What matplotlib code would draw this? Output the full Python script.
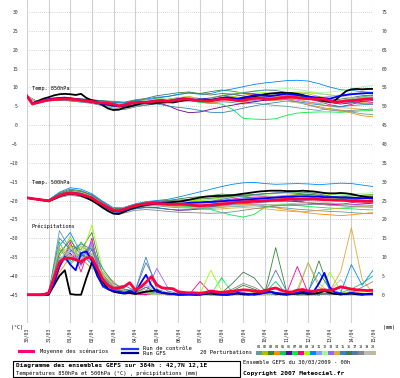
import matplotlib
matplotlib.use("Agg")
import matplotlib.pyplot as plt
from matplotlib.lines import Line2D
from matplotlib.patches import Rectangle

# time steps (hours since 30/03 00h)
hours6 = list(range(0, 385, 6))
hours12 = list(range(0, 385, 12))
day_labels = ['30/03', '31/03', '01/04', '02/04', '03/04', '04/04', '05/04', '06/04', '07/04',
              '08/04', '09/04', '10/04', '11/04', '12/04', '13/04', '14/04', '15/04']

pert_colors = ['#5F9EA0', '#B8B800', '#338833', '#FF8C00', '#00CC66', '#660099', '#00EE44',
               '#FF0088', '#99FF00', '#0088FF', '#9999FF', '#99FF99', '#9966FF', '#DDAA33',
               '#3388BB', '#447755', '#5577AA', '#888888', '#BBBBBB', '#BBBB99']

# Temperature 850hPa (degC)
t850_mean = [7.7, 5.6, 6.0, 6.4, 6.7, 6.8, 6.9, 7.0, 6.9, 6.8, 6.6, 6.4, 6.3, 6.0, 5.9,
             5.8, 5.6, 5.1, 5.4, 5.8, 6.0, 6.1, 6.0, 6.2, 6.4, 6.4, 6.3, 6.5, 6.7, 6.9,
             6.9, 6.6, 6.5, 6.4, 6.4, 6.7, 6.9, 6.9, 6.7, 6.5, 6.6, 6.9, 7.1, 7.2, 7.0,
             6.9, 7.0, 7.2, 7.4, 7.4, 7.3, 7.1, 7.0, 7.0, 6.9, 6.9, 6.5, 6.1, 6.2, 6.4,
             6.5, 6.6, 6.8, 6.9, 7.0]
t850_ctrl = [7.7, 5.7, 6.2, 6.6, 6.9, 7.1, 7.2, 7.3, 7.1, 6.9, 6.7, 6.5, 6.2, 5.9, 5.7,
             5.5, 5.2, 5.0, 5.3, 5.7, 6.0, 6.2, 6.1, 6.3, 6.5, 6.6, 6.4, 6.6, 6.9, 7.1,
             6.9, 6.7, 6.8, 6.9, 6.7, 6.9, 7.2, 7.4, 7.2, 7.0, 7.3, 7.6, 7.9, 8.0, 7.8,
             7.7, 7.9, 8.1, 8.3, 8.2, 8.0, 7.8, 7.6, 7.4, 7.3, 7.1, 7.0, 7.4, 7.8, 8.0,
             8.2, 8.3, 8.4, 8.5, 8.5]
t850_gfs = [7.7, 5.8, 6.4, 7.0, 7.4, 7.9, 8.2, 8.3, 8.2, 8.0, 8.3, 7.2, 6.6, 6.2, 5.3,
            4.4, 4.0, 4.1, 4.6, 4.9, 5.3, 5.7, 5.8, 5.7, 5.9, 6.0, 6.1, 6.0, 6.3, 6.6,
            6.7, 6.6, 6.8, 6.5, 6.6, 6.9, 7.1, 7.0, 6.9, 6.8, 7.1, 7.4, 7.6, 7.9, 8.2,
            8.4, 8.5, 8.6, 8.5, 8.5, 8.3, 8.0, 7.6, 7.2, 6.8, 6.4, 6.2, 6.6, 7.8, 9.0,
            9.5, 9.6, 9.5, 9.6, 9.6]
t850_pert = [
    [7.7, 6.0, 6.5, 6.7, 6.6, 6.4, 6.0, 5.5, 5.0, 4.8, 5.4, 5.8, 6.2, 6.0, 6.4, 6.6, 6.1, 5.8, 6.2, 6.0, 5.6, 5.9, 5.5, 5.2, 5.0, 4.6, 4.2, 3.9, 4.4, 4.0, 3.5, 3.0, 2.8],
    [7.7, 6.1, 6.9, 7.2, 7.2, 6.9, 6.6, 6.1, 5.9, 5.6, 6.1, 6.3, 6.8, 6.9, 7.3, 7.6, 7.0, 6.9, 7.4, 7.6, 7.9, 8.4, 8.2, 7.9, 8.1, 8.6, 8.3, 7.6, 7.1, 6.5, 6.3, 6.0, 5.6],
    [7.7, 5.9, 6.6, 6.9, 6.8, 6.5, 6.5, 6.2, 5.9, 5.7, 6.3, 6.6, 7.2, 7.6, 8.1, 8.6, 8.4, 8.9, 9.3, 9.0, 8.5, 8.3, 7.7, 7.4, 7.8, 7.9, 7.2, 6.4, 5.9, 6.3, 6.9, 7.4, 7.1],
    [7.7, 6.2, 6.9, 7.0, 6.8, 6.4, 6.0, 5.6, 5.8, 5.6, 6.2, 6.1, 6.3, 6.0, 6.2, 6.4, 6.2, 5.9, 6.3, 6.5, 6.0, 6.3, 6.6, 6.5, 6.9, 6.2, 5.4, 4.9, 4.3, 3.9, 3.2, 2.5, 2.2],
    [7.7, 6.0, 6.6, 6.8, 7.0, 6.8, 6.6, 6.3, 6.0, 5.8, 6.5, 6.6, 7.0, 6.8, 7.2, 7.1, 6.6, 6.8, 7.3, 6.9, 6.4, 6.9, 6.8, 7.2, 7.8, 7.5, 7.3, 7.1, 6.8, 6.4, 6.9, 7.5, 7.9],
    [7.7, 6.1, 6.8, 7.1, 7.0, 6.5, 5.9, 5.4, 5.1, 5.0, 5.5, 5.8, 6.0, 5.2, 4.0, 3.3, 3.5, 4.2, 4.8, 5.3, 5.8, 6.2, 6.6, 6.9, 7.2, 7.4, 7.0, 6.5, 6.0, 5.6, 5.9, 6.3, 6.5],
    [7.7, 6.0, 6.6, 6.8, 6.7, 6.4, 6.1, 5.7, 5.4, 5.3, 5.9, 6.2, 6.6, 6.3, 6.5, 6.6, 6.0, 5.8, 5.6, 4.2, 1.8, 1.6, 1.5, 1.7, 2.6, 3.2, 3.4, 3.5, 3.5, 3.4, 3.6, 3.8, 3.9],
    [7.7, 5.8, 6.4, 6.7, 6.6, 6.3, 6.0, 5.5, 5.3, 5.2, 5.9, 6.1, 6.5, 6.4, 6.9, 7.1, 6.8, 7.0, 7.7, 8.1, 8.4, 8.2, 7.8, 7.5, 7.7, 7.4, 6.9, 6.3, 5.4, 4.9, 5.5, 6.3, 6.0],
    [7.7, 6.0, 6.7, 6.8, 6.8, 6.6, 6.4, 6.1, 5.8, 5.6, 6.1, 6.4, 6.6, 6.5, 6.9, 7.2, 7.0, 7.3, 7.9, 8.4, 8.7, 8.9, 8.6, 8.3, 8.5, 8.8, 8.7, 8.4, 8.0, 7.8, 8.1, 8.5, 8.9],
    [7.7, 6.1, 6.9, 7.1, 7.2, 6.9, 6.7, 6.4, 6.1, 5.9, 6.5, 6.9, 7.4, 7.6, 8.2, 8.5, 8.2, 8.4, 9.1, 9.6, 10.2, 10.8, 11.2, 11.5, 11.8, 11.9, 11.7, 11.0, 10.1, 9.4, 9.2, 8.9, 8.6],
    [7.7, 6.0, 6.8, 7.0, 7.1, 6.8, 6.4, 6.0, 5.6, 5.4, 5.9, 6.1, 6.5, 6.3, 6.6, 6.8, 6.5, 6.4, 6.9, 7.1, 7.4, 7.8, 8.1, 8.3, 8.2, 8.0, 7.6, 7.3, 7.6, 8.0, 8.4, 8.6, 8.3],
    [7.7, 6.0, 6.7, 6.9, 6.9, 6.7, 6.3, 6.0, 5.7, 5.5, 6.2, 6.5, 6.9, 6.6, 7.0, 7.2, 6.8, 6.9, 7.5, 8.0, 8.6, 9.1, 9.4, 9.5, 9.7, 9.5, 9.0, 8.6, 8.8, 9.1, 9.6, 10.2, 10.5],
    [7.7, 6.1, 6.7, 6.9, 6.8, 6.5, 6.2, 5.9, 5.7, 5.5, 6.0, 5.9, 6.2, 6.1, 6.6, 6.9, 6.6, 6.6, 7.0, 6.8, 6.3, 6.5, 6.9, 7.4, 7.0, 6.6, 6.1, 5.8, 6.1, 6.4, 6.8, 7.2, 7.5],
    [7.7, 6.2, 6.9, 7.1, 7.0, 6.6, 6.3, 5.9, 5.6, 5.3, 5.8, 6.0, 6.3, 6.2, 6.7, 6.9, 6.7, 6.4, 6.8, 6.6, 6.4, 6.8, 7.3, 7.6, 7.3, 6.9, 6.2, 5.6, 5.0, 4.6, 4.5, 4.2, 4.0],
    [7.7, 5.9, 6.5, 6.6, 6.4, 6.1, 5.8, 5.3, 4.9, 4.6, 5.1, 5.3, 5.6, 5.1, 4.7, 4.4, 3.9, 3.4, 3.3, 3.8, 4.5, 5.1, 5.6, 6.0, 6.4, 6.2, 5.8, 5.4, 5.1, 4.9, 5.2, 5.4, 5.6],
    [7.7, 6.0, 6.7, 7.0, 7.2, 7.0, 6.7, 6.5, 6.3, 6.1, 6.7, 7.1, 7.8, 8.2, 8.6, 8.8, 8.3, 8.0, 8.4, 8.2, 7.7, 7.5, 7.6, 7.9, 8.3, 7.9, 7.2, 6.5, 6.4, 6.9, 7.3, 7.8, 8.0],
    [7.7, 6.1, 6.6, 6.8, 6.9, 6.6, 6.3, 5.8, 5.5, 5.3, 5.9, 6.2, 6.7, 6.7, 7.1, 7.3, 6.9, 7.2, 7.8, 8.2, 8.6, 9.0, 9.3, 9.2, 8.7, 8.2, 7.6, 7.0, 6.6, 6.2, 6.0, 5.7, 5.5],
    [7.7, 5.9, 6.5, 6.6, 6.5, 6.2, 5.8, 5.1, 4.5, 4.1, 4.8, 5.3, 5.8, 5.9, 6.3, 6.5, 6.2, 6.3, 6.8, 7.0, 6.8, 7.0, 7.3, 7.1, 6.8, 6.1, 5.3, 4.6, 4.0, 3.7, 3.9, 4.1, 4.3],
    [7.7, 6.1, 6.8, 7.0, 6.9, 6.6, 6.3, 5.9, 5.6, 5.4, 6.0, 6.3, 6.7, 6.6, 7.0, 7.3, 6.9, 7.0, 7.4, 7.2, 6.9, 7.2, 7.6, 7.8, 8.1, 8.4, 8.6, 8.3, 8.0, 7.6, 7.3, 7.0, 7.2],
    [7.7, 6.0, 6.6, 6.9, 7.0, 6.7, 6.4, 6.0, 5.8, 5.6, 6.2, 6.5, 6.9, 6.8, 7.3, 7.5, 7.1, 7.0, 7.3, 7.0, 6.6, 6.8, 7.0, 6.7, 6.3, 5.9, 5.6, 5.8, 6.2, 6.6, 7.0, 7.3, 7.6],
]

# Temperature 500hPa (degC)
t500_mean = [-19.3, -19.5, -19.7, -19.9, -20.1, -19.4, -18.7, -18.2, -18.0, -18.2,
             -18.4, -18.8, -19.3, -20.3, -21.1, -21.9, -22.6, -22.7, -22.3, -21.8,
             -21.4, -21.1, -20.9, -20.7, -20.8, -20.9, -21.0, -21.0, -21.0, -21.0,
             -21.1, -21.3, -21.4, -21.3, -21.2, -21.0, -20.9, -20.8, -20.6, -20.4,
             -20.4, -20.3, -20.2, -20.2, -20.1, -20.0, -19.9, -19.8, -19.7, -19.6,
             -19.6, -19.6, -19.6, -19.6, -19.7, -19.8, -19.8, -19.9, -19.9, -20.0,
             -20.1, -20.1, -20.2, -20.2, -20.2]
t500_ctrl = [-19.3, -19.5, -19.7, -19.9, -20.1, -19.5, -18.8, -18.3, -18.0, -18.1,
             -18.4, -18.9, -19.5, -20.4, -21.3, -22.1, -22.8, -23.0, -22.6, -22.0,
             -21.6, -21.2, -21.0, -20.8, -20.7, -20.7, -20.8, -20.9, -20.9, -20.8,
             -20.6, -20.5, -20.5, -20.4, -20.4, -20.3, -20.2, -20.1, -20.0, -19.9,
             -19.8, -19.7, -19.6, -19.5, -19.4, -19.3, -19.2, -19.1, -19.0, -19.0,
             -18.9, -18.9, -18.9, -19.0, -19.0, -19.1, -19.1, -19.1, -19.2, -19.2,
             -19.3, -19.3, -19.4, -19.4, -19.5]
t500_gfs = [-19.3, -19.5, -19.7, -19.9, -20.2, -19.6, -18.9, -18.4, -18.1, -18.3,
            -18.7, -19.3, -20.0, -20.9, -21.9, -22.8, -23.5, -23.6, -23.0, -22.3,
            -21.9, -21.5, -21.2, -21.0, -20.8, -20.6, -20.5, -20.4, -20.3, -20.1,
            -19.8, -19.5, -19.2, -19.0, -18.9, -18.8, -18.8, -18.7, -18.6, -18.4,
            -18.2, -18.0, -17.8, -17.6, -17.5, -17.4, -17.4, -17.4, -17.5, -17.5,
            -17.5, -17.4, -17.5, -17.6, -17.8, -18.0, -18.1, -18.1, -18.0, -18.1,
            -18.3, -18.6, -18.9, -19.1, -19.2]
t500_pert = [
    [-19.3, -19.8, -20.2, -18.9, -18.3, -18.7, -19.6, -21.4, -22.9, -22.8, -21.9, -21.5, -21.4, -21.7, -21.9, -22.0, -22.3, -22.1, -21.8, -21.6, -21.5, -21.4, -21.6, -21.8, -22.0, -22.3, -22.5, -22.7, -22.9, -23.0, -23.2, -23.4, -23.5],
    [-19.3, -19.7, -20.0, -18.4, -17.6, -17.9, -18.9, -20.8, -22.3, -22.0, -21.0, -20.5, -20.3, -20.4, -20.2, -20.0, -20.1, -19.8, -19.4, -19.0, -18.7, -18.6, -18.8, -18.9, -18.6, -18.4, -18.7, -19.0, -19.3, -19.5, -19.2, -19.0, -18.8],
    [-19.3, -19.6, -19.9, -18.0, -17.0, -17.4, -18.5, -20.4, -22.1, -22.0, -21.2, -20.6, -20.2, -20.0, -19.6, -19.2, -19.0, -18.7, -18.3, -18.5, -18.9, -19.2, -19.5, -19.3, -18.9, -18.5, -18.3, -18.6, -19.0, -19.4, -19.6, -19.3, -19.0],
    [-19.3, -19.8, -20.1, -18.8, -18.1, -18.6, -19.5, -21.2, -22.7, -22.5, -21.6, -21.2, -21.2, -21.5, -21.6, -21.5, -21.8, -21.7, -21.5, -21.2, -21.0, -21.1, -21.4, -21.9, -22.4, -22.8, -23.3, -23.6, -23.8, -24.0, -23.8, -23.5, -23.2],
    [-19.3, -19.7, -20.1, -18.6, -17.8, -18.2, -19.1, -20.9, -22.4, -22.1, -21.3, -20.9, -20.9, -21.2, -21.4, -21.5, -21.7, -21.4, -21.0, -20.7, -20.3, -20.0, -19.8, -19.6, -19.3, -19.0, -18.8, -18.9, -19.2, -19.6, -20.0, -20.3, -20.5],
    [-19.3, -19.8, -20.2, -18.9, -18.2, -18.6, -19.8, -21.5, -23.0, -22.9, -22.1, -21.8, -21.9, -22.3, -22.6, -22.5, -22.2, -21.7, -21.1, -20.6, -20.2, -19.9, -19.8, -19.9, -20.1, -20.3, -20.6, -20.8, -21.0, -21.2, -21.1, -20.9, -20.7],
    [-19.3, -19.7, -20.0, -18.5, -17.7, -18.1, -19.2, -21.0, -22.5, -22.2, -21.4, -21.0, -21.1, -21.4, -21.5, -21.6, -21.9, -22.4, -23.2, -23.9, -24.4, -23.7, -21.8, -21.2, -21.0, -21.3, -21.6, -21.8, -22.0, -22.1, -22.2, -22.4, -22.5],
    [-19.3, -19.6, -19.9, -18.3, -17.5, -17.9, -18.9, -20.7, -22.2, -21.9, -21.0, -20.6, -20.5, -20.6, -20.5, -20.4, -20.5, -20.3, -20.0, -19.6, -19.3, -19.1, -19.0, -19.2, -19.6, -20.1, -20.6, -21.0, -21.2, -21.0, -20.6, -20.3, -20.1],
    [-19.3, -19.7, -20.1, -18.7, -18.0, -18.3, -19.2, -21.0, -22.5, -22.2, -21.2, -20.7, -20.5, -20.5, -20.3, -20.1, -20.0, -19.7, -19.3, -18.9, -18.6, -18.4, -18.3, -18.2, -18.0, -17.9, -18.0, -18.2, -18.4, -18.6, -18.8, -18.6, -18.4],
    [-19.3, -19.6, -19.8, -17.8, -16.6, -17.0, -18.2, -20.2, -21.9, -21.8, -20.9, -20.3, -20.0, -19.7, -19.1, -18.4, -17.7, -17.0, -16.3, -15.7, -15.3, -15.2, -15.5, -15.7, -15.6, -15.5, -15.6, -15.8, -15.6, -15.4, -15.5, -15.9, -16.3],
    [-19.3, -19.7, -20.0, -18.6, -17.9, -18.3, -19.3, -21.0, -22.6, -22.4, -21.5, -21.0, -20.9, -21.0, -21.0, -20.8, -20.9, -20.6, -20.2, -19.8, -19.5, -19.3, -19.1, -18.9, -18.8, -18.9, -19.1, -19.4, -19.6, -19.8, -19.7, -19.5, -19.4],
    [-19.3, -19.6, -19.9, -18.3, -17.4, -17.8, -18.9, -20.6, -22.1, -21.9, -21.1, -20.7, -20.6, -20.6, -20.5, -20.3, -20.2, -19.9, -19.5, -19.1, -18.8, -18.5, -18.3, -18.1, -17.9, -17.8, -17.7, -17.9, -18.2, -18.4, -18.3, -18.1, -17.9],
    [-19.3, -19.8, -20.1, -18.8, -18.1, -18.5, -19.4, -21.2, -22.7, -22.4, -21.6, -21.1, -21.0, -21.1, -21.1, -21.2, -21.4, -21.3, -21.1, -20.9, -20.8, -20.9, -21.1, -21.3, -21.4, -21.3, -21.1, -20.9, -20.8, -20.9, -21.1, -21.2, -21.3],
    [-19.3, -19.8, -20.2, -18.8, -18.2, -18.5, -19.4, -21.3, -22.8, -22.5, -21.6, -21.2, -21.1, -21.4, -21.6, -21.9, -22.3, -22.4, -22.2, -22.0, -21.9, -22.0, -22.2, -22.5, -22.8, -23.0, -22.9, -22.6, -22.3, -22.0, -21.8, -21.6, -21.5],
    [-19.3, -19.8, -20.2, -19.0, -18.4, -18.8, -19.8, -21.6, -23.1, -23.0, -22.2, -21.9, -22.0, -22.3, -22.5, -22.4, -22.1, -21.7, -21.3, -21.0, -20.8, -20.6, -20.4, -20.3, -20.2, -20.0, -19.9, -19.8, -19.9, -20.0, -20.2, -20.3, -20.4],
    [-19.3, -19.6, -19.9, -18.2, -17.3, -17.6, -18.6, -20.5, -22.2, -22.0, -21.1, -20.5, -20.2, -20.1, -19.9, -19.7, -19.6, -19.4, -19.1, -18.8, -18.6, -18.4, -18.2, -18.0, -17.9, -18.1, -18.4, -18.7, -18.9, -19.0, -18.8, -18.6, -18.5],
    [-19.3, -19.7, -20.0, -18.5, -17.7, -18.1, -19.1, -20.9, -22.4, -22.2, -21.3, -20.8, -20.7, -20.8, -20.8, -20.7, -20.6, -20.2, -19.7, -19.2, -18.8, -18.5, -18.2, -18.0, -17.8, -17.7, -17.9, -18.3, -18.8, -19.2, -19.6, -19.9, -20.1],
    [-19.3, -19.9, -20.3, -19.2, -18.6, -19.0, -20.0, -21.9, -23.4, -23.3, -22.6, -22.4, -22.6, -22.9, -23.1, -23.2, -23.3, -23.4, -23.3, -23.0, -22.6, -22.2, -21.8, -21.5, -21.2, -21.0, -20.9, -21.0, -21.2, -21.4, -21.6, -21.7, -21.8],
    [-19.3, -19.7, -20.0, -18.5, -17.8, -18.2, -19.2, -21.0, -22.5, -22.3, -21.4, -21.0, -20.9, -21.0, -21.0, -21.0, -21.1, -20.9, -20.6, -20.3, -20.0, -19.8, -19.7, -19.6, -19.5, -19.5, -19.6, -19.8, -20.0, -20.2, -20.3, -20.4, -20.5],
    [-19.3, -19.7, -20.1, -18.6, -17.9, -18.4, -19.3, -21.1, -22.6, -22.4, -21.6, -21.2, -21.2, -21.5, -21.7, -21.8, -22.0, -21.9, -21.7, -21.5, -21.3, -21.2, -21.1, -21.0, -20.9, -20.7, -20.5, -20.4, -20.6, -20.9, -21.2, -21.4, -21.6],
]

# Precipitation (mm, right axis)
rain_mean = [0, 0, 0, 0, 0.5, 4.5, 8.5, 9.7, 9.7, 9.3, 8.7, 9.8, 9.8, 7.0, 4.0,
             2.4, 1.7, 1.8, 2.2, 3.2, 1.3, 2.0, 3.3, 4.8, 2.6, 1.8, 1.7, 1.6, 0.8, 0.6,
             0.5, 0.5, 0.4, 0.6, 1.0, 0.8, 0.6, 0.8, 0.9, 1.1, 1.3, 1.2, 1.0, 0.8, 1.0,
             1.5, 1.8, 1.2, 0.8, 0.7, 1.2, 1.4, 1.0, 0.9, 1.2, 1.3, 1.1, 1.5, 2.1, 1.8,
             1.5, 1.3, 1.2, 1.1, 1.2]
rain_ctrl = [0, 0, 0, 0, 0.2, 3.0, 7.5, 10.0, 8.0, 6.5, 11.0, 11.5, 9.0, 5.0, 2.5,
             1.5, 1.0, 0.8, 0.5, 1.0, 0.5, 3.0, 5.3, 2.5, 0.8, 0.5, 0.3, 0.2, 0.1, 0.2,
             0.1, 0.0, 0.2, 0.3, 0.5, 0.3, 0.2, 0.0, 0.2, 0.5, 0.3, 0.2, 0.0, 0.2, 0.5,
             0.8, 0.5, 0.3, 0.2, 0.3, 0.5, 1.0, 0.5, 0.8, 3.0, 5.8, 2.0, 0.5, 0.3, 0.2,
             0.5, 0.3, 0.2, 0.1, 0.2]
rain_gfs = [0, 0, 0, 0, 0, 2.5, 5.0, 6.5, 0.2, 0.0, 0.0, 4.5, 8.5, 6.0, 3.5,
            1.5, 0.8, 0.5, 0.3, 0.5, 0.2, 0.5, 0.8, 1.0, 1.2, 0.5, 0.3, 0.2, 0.0, 0.0,
            0.1, 0.0, 0.0, 0.2, 0.3, 0.1, 0.0, 0.0, 0.2, 0.3, 0.1, 0.0, 0.2, 0.5, 1.2,
            0.8, 0.3, 0.1, 0.0, 0.2, 0.3, 0.5, 0.2, 0.3, 0.5, 1.0, 0.5, 0.2, 0.1, 0.2,
            0.3, 0.1, 0.0, 0.2, 0.3]
rain_pert = [
    [0, 0, 0, 17.0, 12.0, 9.0, 14.0, 4.0, 1.0, 0.5, 0.3, 2.0, 0.5, 0.3, 0.0, 0.2, 0.0, 0.5, 0.3, 0.0, 0.0, 0.5, 0.2, 0.0, 0.3, 0.0, 0.0, 0.4, 0.0, 0.5, 0.2, 0.0, 0.3],
    [0, 0, 0.2, 10.0, 15.5, 8.0, 11.0, 3.0, 2.0, 1.0, 0.2, 0.5, 1.0, 0.2, 0.0, 0.0, 0.3, 0.5, 0.0, 0.0, 0.2, 0.0, 1.5, 0.5, 0.0, 0.5, 8.5, 2.0, 0.5, 0.0, 0.3, 0.0, 0.0],
    [0, 0, 0.5, 8.0, 13.0, 12.0, 16.5, 5.0, 1.5, 0.8, 1.5, 0.3, 0.5, 0.2, 0.0, 0.0, 0.0, 0.3, 0.0, 1.0, 2.5, 1.5, 0.5, 12.5, 1.0, 0.2, 0.5, 9.0, 1.0, 0.3, 0.5, 0.2, 0.0],
    [0, 0, 0, 6.0, 10.0, 9.5, 7.0, 6.0, 3.5, 0.8, 0.2, 1.0, 0.3, 0.0, 0.0, 0.0, 0.5, 0.0, 0.0, 0.0, 0.3, 0.0, 0.0, 0.3, 0.0, 0.0, 0.2, 0.0, 0.5, 0.0, 1.0, 0.3, 0.5],
    [0, 0, 0.3, 12.0, 9.0, 14.0, 10.0, 2.5, 1.5, 1.5, 0.5, 0.5, 0.2, 0.0, 0.0, 0.3, 0.0, 0.0, 4.5, 0.5, 0.0, 0.2, 0.5, 3.5, 0.2, 0.0, 0.0, 0.3, 0.0, 0.5, 1.5, 3.0, 5.0],
    [0, 0, 0, 9.0, 11.0, 8.0, 12.0, 4.5, 1.0, 0.5, 0.3, 0.0, 0.3, 0.2, 0.0, 0.0, 0.2, 0.0, 0.0, 0.0, 0.5, 0.0, 0.3, 0.0, 0.2, 0.0, 0.0, 0.0, 0.5, 0.0, 0.0, 0.2, 0.0],
    [0, 0, 0.5, 14.0, 8.0, 11.0, 9.0, 3.5, 1.0, 0.5, 1.5, 0.5, 0.2, 0.0, 0.0, 0.2, 0.0, 0.0, 0.3, 0.0, 0.0, 0.5, 0.0, 0.0, 0.3, 0.0, 0.5, 0.0, 0.2, 0.0, 0.3, 0.0, 0.0],
    [0, 0, 0.2, 7.0, 14.0, 6.0, 15.0, 2.0, 0.8, 0.3, 0.2, 0.0, 0.3, 0.0, 0.0, 0.0, 3.5, 0.5, 0.0, 0.0, 0.3, 0.0, 0.2, 0.5, 0.3, 7.5, 0.5, 0.0, 0.3, 0.0, 0.2, 0.0, 0.0],
    [0, 0, 0, 11.0, 13.0, 10.0, 18.5, 6.5, 2.5, 0.5, 0.2, 0.5, 0.3, 0.0, 0.0, 0.0, 0.3, 6.5, 1.0, 0.2, 0.0, 0.0, 0.3, 0.0, 0.5, 0.0, 0.2, 0.5, 6.0, 1.0, 0.0, 0.5, 0.2],
    [0, 0, 0.3, 13.0, 16.5, 11.0, 8.0, 2.0, 1.0, 0.5, 0.3, 1.0, 0.5, 0.2, 0.0, 0.0, 0.0, 0.2, 0.0, 0.3, 0.0, 0.0, 0.5, 0.2, 0.0, 0.3, 1.0, 6.0, 1.5, 0.5, 8.0, 2.5, 6.5],
    [0, 0, 0, 9.5, 12.0, 7.5, 13.5, 4.0, 1.5, 0.5, 0.8, 2.5, 1.0, 0.3, 0.0, 0.0, 0.2, 0.0, 0.5, 0.0, 0.2, 0.0, 0.0, 0.5, 0.0, 0.0, 0.3, 0.0, 0.2, 0.0, 0.5, 0.0, 0.3],
    [0, 0, 0.2, 10.5, 15.0, 12.5, 11.5, 5.5, 2.0, 1.0, 0.5, 0.3, 0.0, 0.0, 0.2, 0.0, 0.0, 0.3, 4.0, 1.0, 0.3, 0.0, 0.0, 0.2, 0.0, 0.0, 0.5, 0.2, 0.0, 0.3, 0.0, 0.2, 0.0],
    [0, 0, 0, 8.5, 10.5, 9.0, 14.0, 3.0, 1.0, 0.5, 0.3, 0.5, 7.0, 2.0, 0.5, 0.0, 0.2, 0.0, 0.0, 0.3, 0.5, 0.0, 0.3, 0.0, 0.0, 0.2, 0.0, 0.3, 0.0, 0.5, 0.0, 0.0, 0.2],
    [0, 0, 0.3, 12.5, 9.5, 13.0, 10.5, 5.0, 2.5, 0.8, 0.3, 0.5, 0.2, 0.0, 0.3, 0.0, 0.0, 0.5, 0.0, 0.0, 0.3, 0.5, 0.0, 0.2, 0.0, 0.3, 0.0, 0.5, 1.0, 6.0, 17.8, 4.0, 0.5],
    [0, 0, 0.5, 15.0, 12.0, 10.0, 12.5, 7.0, 3.0, 1.5, 1.0, 10.0, 1.5, 0.5, 0.2, 0.0, 0.3, 0.0, 0.0, 0.5, 0.2, 0.0, 0.3, 0.0, 0.5, 0.2, 0.0, 0.0, 0.3, 0.0, 0.5, 0.2, 0.0],
    [0, 0, 0, 11.0, 14.5, 10.5, 9.5, 3.5, 1.5, 1.0, 0.5, 2.0, 0.5, 0.3, 0.0, 0.2, 0.0, 0.3, 0.5, 3.0, 6.0, 4.5, 1.0, 0.5, 0.3, 0.0, 0.2, 0.0, 0.5, 0.0, 0.3, 0.2, 0.0],
    [0, 0, 0.2, 9.0, 11.5, 13.5, 12.0, 4.0, 2.0, 2.5, 1.0, 8.5, 3.0, 1.0, 0.3, 0.0, 0.2, 0.0, 0.3, 0.5, 0.0, 0.2, 0.5, 6.5, 1.0, 0.3, 0.0, 0.5, 0.2, 0.0, 0.3, 0.0, 0.2],
    [0, 0, 0.3, 10.0, 8.5, 11.0, 13.0, 5.5, 2.0, 1.0, 0.5, 0.3, 0.5, 0.2, 0.0, 0.3, 0.0, 0.2, 0.5, 1.5, 3.0, 2.0, 0.5, 0.3, 0.0, 0.2, 0.5, 0.3, 0.0, 0.3, 0.5, 2.0, 3.5],
    [0, 0, 0, 7.5, 12.5, 9.5, 11.0, 3.0, 1.0, 0.5, 0.3, 1.5, 0.5, 0.0, 0.2, 0.0, 0.0, 0.3, 0.0, 0.2, 0.5, 0.3, 0.0, 0.5, 1.0, 0.5, 0.3, 0.5, 1.0, 4.0, 0.5, 0.3, 0.2],
    [0, 0, 0.2, 13.5, 10.0, 12.0, 8.5, 6.0, 2.5, 1.0, 0.5, 0.3, 0.2, 0.0, 0.3, 0.0, 0.2, 0.0, 0.3, 0.0, 0.2, 0.5, 0.0, 0.3, 0.5, 1.5, 8.5, 3.0, 0.5, 0.2, 0.0, 0.3, 0.0],
]

mono = 'DejaVu Sans Mono'
W, H = 400, 378


def px(x, y):
    return x / W, 1 - y / H


fig = plt.figure(figsize=(4, 3.78), dpi=100)
ax = fig.add_axes([27 / W, 1 - 323 / H, 346 / W, 323 / H])
ax2 = ax.twinx()
ax.set_xlim(0, 384)
ax.set_ylim(-52.5, 33.2)
ax2.set_ylim(-52.5 + 45, 33.2 + 45)

for a in (ax, ax2):
    for s in a.spines.values():
        s.set_visible(False)

ax.set_yticks(range(-45, 31, 5))
ax.set_xticks(range(0, 385, 24))
ax.set_xticklabels(day_labels, rotation=90, family=mono, fontsize=4.3)
ax.grid(axis='y', color='#C8C8C8', lw=0.6, ls=(0, (1, 1.5)))
ax.grid(axis='x', color='#D0D0D0', lw=0.8)
ax.set_axisbelow(True)
ax.tick_params(length=0, labelsize=3.4, labelcolor='#333333', pad=6.5)
ax.tick_params(axis='x', pad=3, labelcolor='#222222')
ax2.set_yticks(range(0, 76, 5))
ax2.tick_params(length=0, labelsize=3.4, labelcolor='#333333', pad=6)
for lab in ax.get_yticklabels() + ax2.get_yticklabels():
    lab.set_family(mono)

# perturbations
for i in range(20):
    ax.plot(hours12, t850_pert[i], color=pert_colors[i], lw=0.6)
    ax.plot(hours12, t500_pert[i], color=pert_colors[i], lw=0.6)
    ax2.plot(hours12, rain_pert[i], color=pert_colors[i], lw=0.6)

# GFS run, control run, ensemble mean
ax.plot(hours6, t850_gfs, color='#000000', lw=1.3)
ax.plot(hours6, t500_gfs, color='#000000', lw=1.3)
ax2.plot(hours6, rain_gfs, color='#000000', lw=1.3)
ax.plot(hours6, t850_ctrl, color='#0000FF', lw=1.3)
ax.plot(hours6, t500_ctrl, color='#0000FF', lw=1.3)
ax2.plot(hours6, rain_ctrl, color='#0000FF', lw=1.3)
ax.plot(hours6, t850_mean, color='#FF0040', lw=2.0)
ax.plot(hours6, t500_mean, color='#FF0040', lw=2.0)
ax2.plot(hours6, rain_mean, color='#FF0040', lw=2.0)

ax.text(5, 9.6, 'Temp. 850hPa', family=mono, fontsize=3.8, va='center')
ax.text(5, -15.1, 'Temp. 500hPa', family=mono, fontsize=3.8, va='center')
ax.text(5, -26.8, 'Précipitations', family=mono, fontsize=3.8, va='center')

fig.text(*px(17, 328), '(°C)', family=mono, fontsize=3.6, ha='center', va='center')
fig.text(*px(389, 328), '(mm)', family=mono, fontsize=3.6, ha='center', va='center')

# legend
fig.add_artist(Line2D([19 / W, 33 / W], [1 - 351 / H] * 2, color='#FF0080', lw=2.2))
fig.text(*px(40, 351), 'Moyenne des scénarios', family=mono, fontsize=3.9, va='center')
fig.add_artist(Line2D([122 / W, 138 / W], [1 - 348.5 / H] * 2, color='#2233FF', lw=1.6))
fig.add_artist(Line2D([122 / W, 138 / W], [1 - 352.5 / H] * 2, color='#000088', lw=1.6))
fig.text(*px(143, 348), 'Run de contrôle', family=mono, fontsize=3.9, va='center')
fig.text(*px(143, 353.5), 'Run GFS', family=mono, fontsize=3.9, va='center')
fig.text(*px(200, 352), '20 Perturbations', family=mono, fontsize=3.9, va='center')
for i in range(20):
    fig.add_artist(Rectangle(px(256 + 6 * i, 355), 5.5 / W, 4 / H, transform=fig.transFigure,
                             facecolor=pert_colors[i], edgecolor='none'))
    fig.text(*px(259 + 6 * i, 346.5), '%02d' % (i + 1), family=mono, fontsize=2.5,
             ha='center', va='center')

# caption box
fig.add_artist(Rectangle(px(13, 377), 227 / W, 16 / H, transform=fig.transFigure,
                         facecolor='none', edgecolor='black', lw=0.8))
fig.text(*px(16, 365.5), 'Diagramme des ensembles GEFS sur 384h : 42,7N 12,1E',
         family=mono, fontsize=4.4, weight='bold', va='center')
fig.text(*px(16, 373), 'Températures 850hPa et 500hPa (°C) , précipitations (mm)',
         family=mono, fontsize=3.9, va='center')
fig.text(*px(243, 362.5), 'Ensemble GEFS du 30/03/2009 - 00h', family=mono, fontsize=3.9, va='center')
fig.text(*px(243, 373), 'Copyright 2007 Meteociel.fr', family=mono, fontsize=4.5,
         weight='bold', va='center')

fig.savefig('out.png', dpi=100)
